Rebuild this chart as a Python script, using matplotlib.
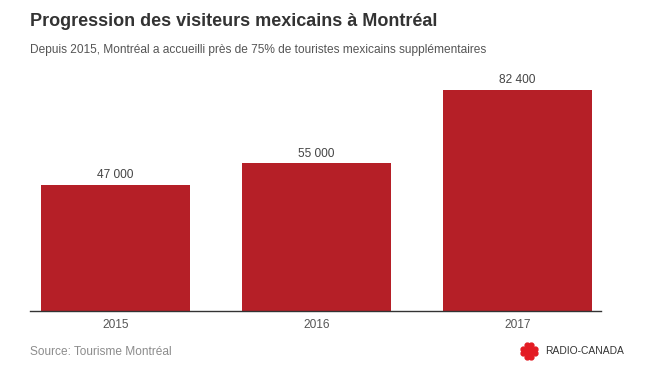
import matplotlib
matplotlib.use('Agg')
import matplotlib.pyplot as plt
import numpy as np

plt.rcParams['font.family'] = ['Liberation Sans', 'DejaVu Sans']

years = ['2015', '2016', '2017']
visitors = [47000, 55000, 82400]
value_labels = ['47 000', '55 000', '82 400']

title = 'Progression des visiteurs mexicains à Montréal'
subtitle = 'Depuis 2015, Montréal a accueilli près de 75% de touristes mexicains supplémentaires'
source = 'Source: Tourisme Montréal'

W, H = 656, 379
fig = plt.figure(figsize=(W / 100, H / 100), dpi=100)

# plot area: x 30..601 px, y 69..311 px
ax = fig.add_axes([30 / W, (H - 311) / H, 571 / W, 242 / H])
x = np.arange(len(years))
ax.bar(x, visitors, width=0.745, color='#b51f27')
ax.set_xlim(-0.425, 2.415)
ax.set_ylim(0, 90130)

for xi, v, lab in zip(x, visitors, value_labels):
    ax.annotate(lab, (xi, v), xytext=(0, 2.5), textcoords='offset points',
                ha='center', va='bottom', fontsize=8.6, color='#444444')

ax.set_xticks(x)
ax.set_xticklabels(years, fontsize=8.6, color='#555555')
ax.tick_params(axis='x', length=0, pad=5.5)
ax.set_yticks([])
for s in ['top', 'right', 'left']:
    ax.spines[s].set_visible(False)
ax.spines['bottom'].set_color('#333333')
ax.spines['bottom'].set_linewidth(1)

fig.text(30 / W, 1 - 21 / H, title, fontsize=13, fontweight='bold',
         color='#333333', ha='left', va='center')
fig.text(30 / W, 1 - 50 / H, subtitle, fontsize=8.6, color='#555555',
         ha='left', va='center')
fig.text(30 / W, 1 - 352 / H, source, fontsize=8.6, color='#8c8c8c',
         ha='left', va='center')

# Radio-Canada logo
lx, ly = 529 / W, 1 - 351 / H
ang = np.linspace(0, 2 * np.pi, 8, endpoint=False) + np.pi / 8
gx = lx + 6.5 * np.cos(ang) / W
gy = ly + 6.5 * np.sin(ang) / H
fig.add_artist(plt.Line2D(gx, gy, ls='none', marker='o', ms=3.5,
                          color='#e31b23', transform=fig.transFigure))
fig.add_artist(plt.Line2D([lx], [ly], ls='none', marker='o', ms=6,
                          color='#e31b23', transform=fig.transFigure))
fig.text(545 / W, ly, 'RADIO-CANADA', fontsize=7.4, color='#333333',
         ha='left', va='center')

fig.savefig('out.png', dpi=100)
